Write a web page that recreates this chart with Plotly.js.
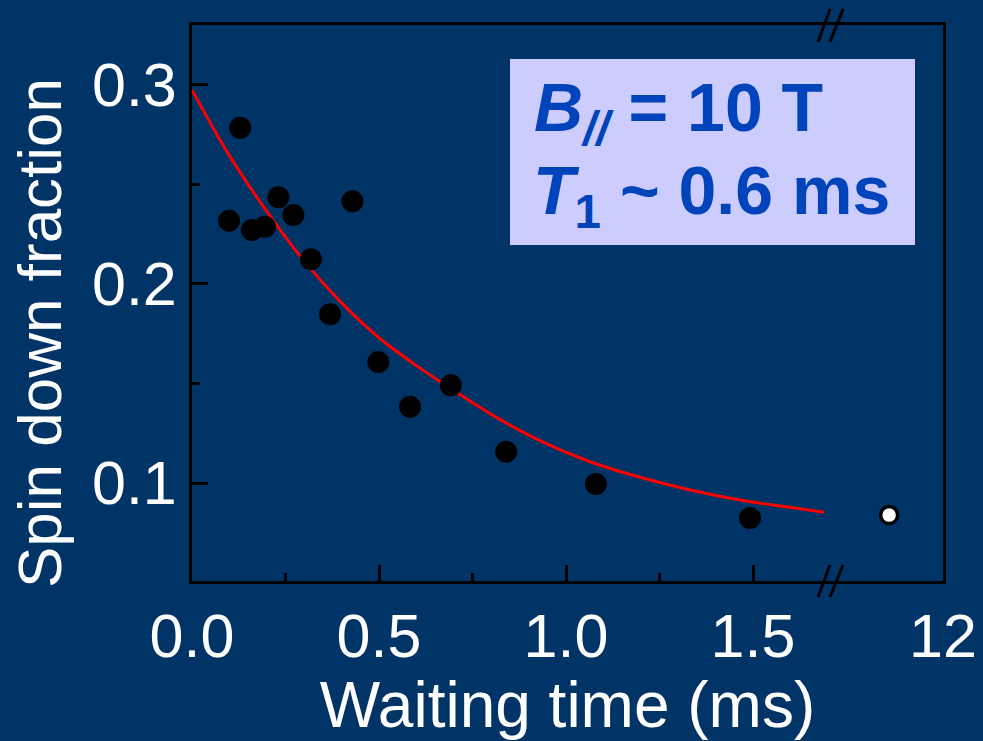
<!DOCTYPE html>
<html>
<head>
<meta charset="utf-8">
<script src="https://cdn.plot.ly/plotly-3.0.1.min.js"></script>
<style>html,body{margin:0;padding:0;background:#003366;}#chart{width:983px;height:741px;}</style>
</head>
<body>
<div id="chart"></div>
<script>
// Measured data (waiting time in ms, spin-down fraction)
const waitTime = [0.099, 0.129, 0.160, 0.195, 0.231, 0.271, 0.318, 0.369, 0.429, 0.498, 0.583, 0.692, 0.840, 1.080, 1.492];
const spinDown = [0.2318, 0.2785, 0.2271, 0.2288, 0.2436, 0.2347, 0.2124, 0.1848, 0.2416, 0.1608, 0.1383, 0.1491, 0.1157, 0.0995, 0.0824];
// Point after the axis break (plotted position on broken axis)
const brokenTime = [1.864];
const brokenSpin = [0.0839];
// Fit curve
const fitTime = [0, 0.1, 0.2, 0.3, 0.4, 0.5, 0.6, 0.7, 0.8, 0.93, 1.064, 1.198, 1.332, 1.465, 1.599, 1.69];
const fitSpin = [0.2975, 0.2645, 0.2365, 0.2115, 0.1905, 0.173, 0.159, 0.1465, 0.1345, 0.1213, 0.1107, 0.1029, 0.0965, 0.0915, 0.0878, 0.0853];
// Axis ticks
const xTickVals = [0, 0.5, 1.0, 1.5, 2.008];
const xTickText = ["0.0", "0.5", "1.0", "1.5", "12"];
const xMinorVals = [0.25, 0.75, 1.25];
const yTickVals = [0.1, 0.2, 0.3];
const yTickText = ["0.1", "0.2", "0.3"];
const yMinorVals = [0.15, 0.25];

const FONT = '"Liberation Sans", Arial, Helvetica, sans-serif';
const BG = '#003366';

const traces = [
  {x: fitTime, y: fitSpin, type: 'scatter', mode: 'lines',
   line: {color: '#ff0000', width: 3, shape: 'spline', smoothing: 1}, hoverinfo: 'skip'},
  {x: waitTime, y: spinDown, type: 'scatter', mode: 'markers',
   marker: {color: '#000000', size: 22, line: {width: 0}}},
  {x: brokenTime, y: brokenSpin, type: 'scatter', mode: 'markers',
   marker: {color: '#ffffff', size: 17, line: {color: '#000000', width: 3.5}}}
];

function slash(x0, y0, x1, y1) {
  return {type: 'line', xref: 'paper', yref: 'paper', x0: x0, y0: y0, x1: x1, y1: y1,
          line: {color: '#000000', width: 3}, layer: 'above'};
}
// paper coords: x = (px-192)/751, y = (581-py)/556
function px(v) { return (v - 192) / 751; }
function py(v) { return (581 - v) / 556; }

const layout = {
  width: 983, height: 741,
  paper_bgcolor: BG, plot_bgcolor: BG,
  margin: {l: 192, r: 40, t: 25, b: 160},
  showlegend: false,
  font: {family: FONT, color: '#ffffff'},
  xaxis: {
    range: [0, 2.008], tickmode: 'array', tickvals: xTickVals, ticktext: xTickText,
    ticks: 'inside', ticklen: 16, tickwidth: 3, tickcolor: '#000000',
    minor: {tickmode: 'array', tickvals: xMinorVals, ticks: 'inside', ticklen: 8, tickwidth: 3, tickcolor: '#000000', showgrid: false},
    showline: true, linecolor: '#000000', linewidth: 3, mirror: true,
    showgrid: false, zeroline: false,
    tickfont: {family: FONT, size: 61, color: '#ffffff'},
    ticklabelstandoff: 0,
    title: {text: 'Waiting time (ms)', font: {family: FONT, size: 64, color: '#ffffff'}, standoff: 26}
  },
  yaxis: {
    range: [0.0508, 0.3301], tickmode: 'array', tickvals: yTickVals, ticktext: yTickText,
    ticks: 'inside', ticklen: 16, tickwidth: 3, tickcolor: '#000000',
    minor: {tickmode: 'array', tickvals: yMinorVals, ticks: 'inside', ticklen: 8, tickwidth: 3, tickcolor: '#000000', showgrid: false},
    showline: true, linecolor: '#000000', linewidth: 3, mirror: true,
    showgrid: false, zeroline: false,
    tickfont: {family: FONT, size: 61, color: '#ffffff'},
    ticklabelstandoff: 0
  },
  shapes: [
    {type: 'rect', xref: 'paper', yref: 'paper', x0: px(510), x1: px(915), y0: py(245), y1: py(59),
     fillcolor: '#ccccff', line: {width: 0}, layer: 'below'},
    slash(px(818), py(597), px(830), py(565)),
    slash(px(830), py(597), px(843), py(565)),
    slash(px(818), py(42), px(830), py(9)),
    slash(px(830), py(42), px(843), py(9))
  ],
  annotations: [
    {xref: 'paper', yref: 'paper', x: px(39), y: py(333), xanchor: 'center', yanchor: 'middle',
     textangle: -90, showarrow: false, text: 'Spin down fraction',
     font: {family: FONT, size: 62, color: '#ffffff'}},
    {xref: 'paper', yref: 'paper', x: px(532), y: py(112), xanchor: 'left', yanchor: 'middle',
     showarrow: false, text: '<b><i>B</i><sub><i>//</i></sub> = 10 T</b>',
     font: {family: FONT, size: 68, color: '#0044bb'}},
    {xref: 'paper', yref: 'paper', x: px(531), y: py(195), xanchor: 'left', yanchor: 'middle',
     showarrow: false, text: '<b><i>T</i><sub>1</sub> ~ 0.6 ms</b>',
     font: {family: FONT, size: 68, color: '#0044bb'}}
  ]
};

Plotly.newPlot('chart', traces, layout, {displayModeBar: false, staticPlot: true});
</script>
</body>
</html>
